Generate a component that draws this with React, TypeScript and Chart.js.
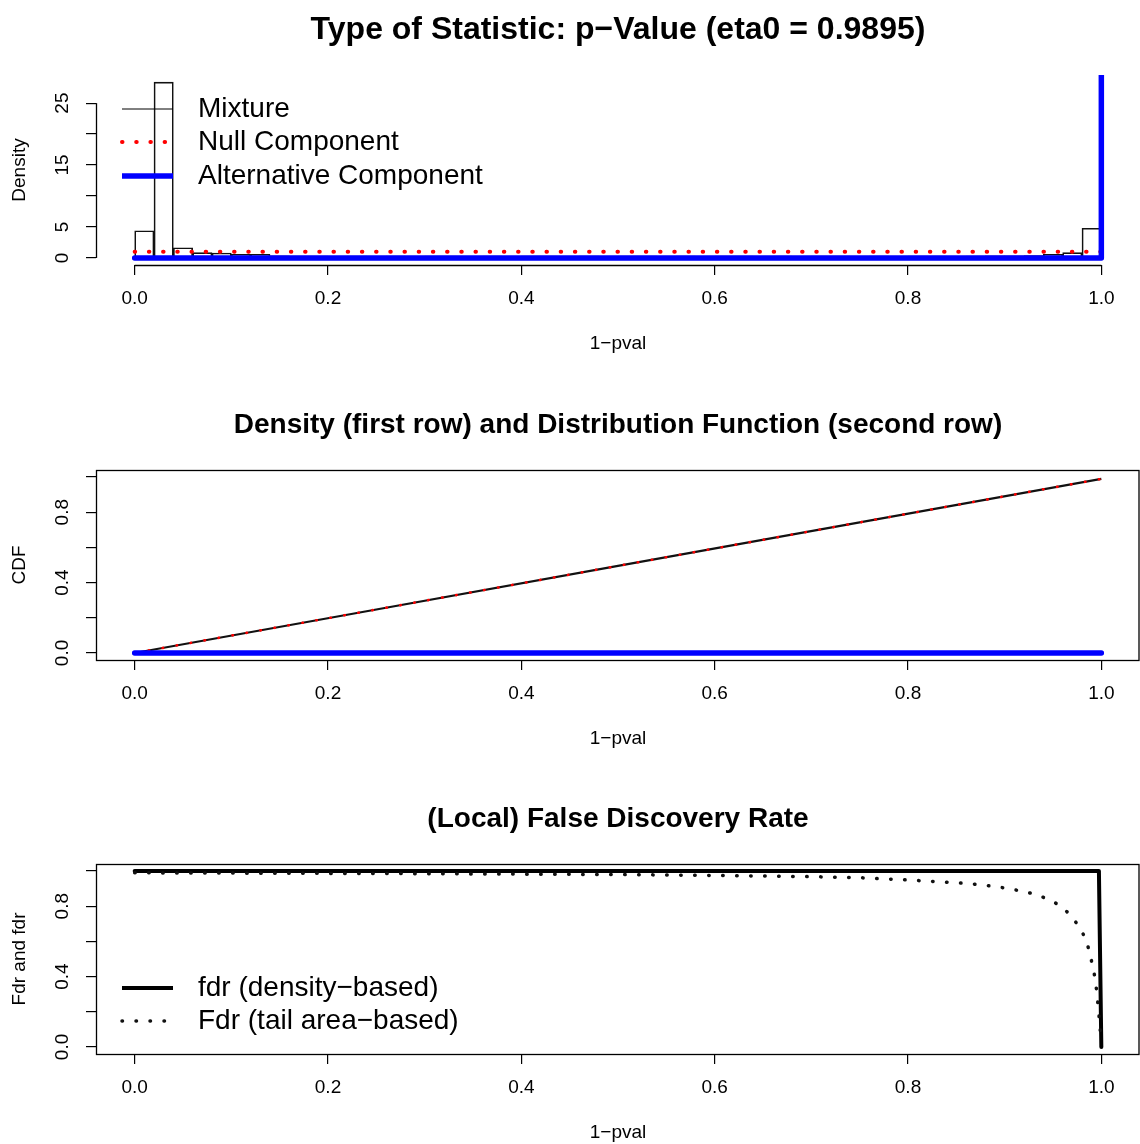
import React, { useEffect, useRef } from 'react';
import { Chart, registerables } from 'chart.js';

Chart.register(...registerables);

const FONT = '"Liberation Sans", Arimo, Arial, Helvetica, sans-serif';

// ---------- text ----------
const mainTitle = 'Type of Statistic: p\u2212Value (eta0 = 0.9895)';
const cdfTitle = 'Density (first row) and Distribution Function (second row)';
const fdrTitle = '(Local) False Discovery Rate';
const xAxisLabel = '1\u2212pval';
const densityAxisLabel = 'Density';
const cdfAxisLabel = 'CDF';
const fdrAxisLabel = 'Fdr and fdr';
const legend1Labels = ['Mixture', 'Null Component', 'Alternative Component'];
const legend3Labels = ['fdr (density\u2212based)', 'Fdr (tail area\u2212based)'];

// ---------- ticks ----------
const xTicks = [0, 0.2, 0.4, 0.6, 0.8, 1.0];
const xTickLabels = ['0.0', '0.2', '0.4', '0.6', '0.8', '1.0'];
const densityTicks = [0, 5, 10, 15, 20, 25];
const densityTickLabels = ['0', '5', '', '15', '', '25'];
const unitTicks = [0, 0.2, 0.4, 0.6, 0.8, 1.0];
const unitTickLabels = ['0.0', '', '0.4', '', '0.8', ''];

// axis limits (R style 4% extension)
const xRange = [-0.04, 1.04];
const densityRange = [-1.136, 29.54];
const unitRange = [-0.04, 1.04];

// ---------- panel 1: histogram + densities ----------
const histBinCenters = [
  0.01, 0.03, 0.05, 0.07, 0.09, 0.11, 0.13, 0.15, 0.17, 0.19,
  0.21, 0.23, 0.25, 0.27, 0.29, 0.31, 0.33, 0.35, 0.37, 0.39,
  0.41, 0.43, 0.45, 0.47, 0.49, 0.51, 0.53, 0.55, 0.57, 0.59,
  0.61, 0.63, 0.65, 0.67, 0.69, 0.71, 0.73, 0.75, 0.77, 0.79,
  0.81, 0.83, 0.85, 0.87, 0.89, 0.91, 0.93, 0.95, 0.97, 0.99,
];
const histDensity = [
  4.4, 28.4, 1.65, 0.85, 0.8, 0.6, 0.6, 0.35, 0.3, 0.3,
  0.25, 0.3, 0.25, 0.3, 0.25, 0.3, 0.3, 0.25, 0.3, 0.25,
  0.3, 0.3, 0.25, 0.3, 0.25, 0.3, 0.3, 0.25, 0.3, 0.25,
  0.3, 0.3, 0.25, 0.3, 0.25, 0.3, 0.3, 0.25, 0.3, 0.25,
  0.3, 0.3, 0.25, 0.3, 0.35, 0.35, 0.4, 0.6, 0.85, 4.8,
];
const nullX = [0, 1];
const nullDensity = [0.9895, 0.9895];
const altX = [0, 1, 1];
const altDensity = [0, 0, 60];

// ---------- panel 2: CDFs ----------
const cdfX = [0, 0.25, 0.5, 0.75, 1];
const mixtureCdf = [0, 0.247, 0.495, 0.742, 0.9895];
const nullCdf = [0, 0.247, 0.495, 0.742, 0.9895];
const altCdf = [0, 0, 0, 0, 0];

// ---------- panel 3: fdr / Fdr ----------
const fdrX = [0, 0.9975, 1];
const fdrValues = [1, 1, 0];
const FdrX = [0, 0.3, 0.5, 0.6, 0.7, 0.75, 0.8, 0.86, 0.89, 0.917, 0.931, 0.945, 0.958, 0.968, 0.977, 0.984, 0.988, 0.991, 0.994, 0.9955, 0.997, 0.9985, 1.0];
const FdrValues = [0.99, 0.985, 0.98, 0.975, 0.968, 0.962, 0.949, 0.93, 0.913, 0.887, 0.869, 0.84, 0.802, 0.75, 0.684, 0.613, 0.535, 0.459, 0.379, 0.297, 0.217, 0.12, 0.02];

const RED = '#FF0000';
const BLUE = '#0000FF';
const BLACK = '#000000';

const pts = (xs: number[], ys: number[]) => xs.map((x, i) => ({ x, y: ys[i] }));

type LegendEntry = { label: string; color: string; width: number; dash: number[]; cap: CanvasLineCap; y: number };

function decorPlugin(p: {
  title: string;
  titleSize: number;
  yTicks: number[];
  yLabels: string[];
  box: boolean;
  axisYMax: number;
  legend: LegendEntry[];
}) {
  return {
    id: 'decor',
    afterDraw(chart: any) {
      const { ctx, chartArea, scales } = chart;
      const xs = scales.x;
      const ys = scales.y;
      ctx.save();
      // title
      ctx.fillStyle = BLACK;
      ctx.font = `bold ${p.titleSize}px ${FONT}`;
      ctx.textAlign = 'center';
      ctx.textBaseline = 'middle';
      ctx.fillText(p.title, (chartArea.left + chartArea.right) / 2, 30);

      // axes / box
      ctx.strokeStyle = BLACK;
      ctx.lineWidth = 1.3;
      ctx.setLineDash([]);
      if (p.box) {
        ctx.strokeRect(chartArea.left + 0.5, chartArea.top + 0.5, chartArea.right - chartArea.left - 1.5, chartArea.bottom - chartArea.top);
      } else {
        const yb = Math.round(chartArea.bottom) + 0.5;
        ctx.beginPath();
        ctx.moveTo(xs.getPixelForValue(0), yb);
        ctx.lineTo(xs.getPixelForValue(1), yb);
        ctx.stroke();
        const xl = Math.round(chartArea.left) + 0.5;
        ctx.beginPath();
        ctx.moveTo(xl, ys.getPixelForValue(0));
        ctx.lineTo(xl, ys.getPixelForValue(p.axisYMax));
        ctx.stroke();
      }

      // rotated y tick labels
      ctx.font = `19px ${FONT}`;
      ctx.textAlign = 'center';
      ctx.textBaseline = 'middle';
      p.yTicks.forEach((v, i) => {
        const t = p.yLabels[i];
        if (!t) return;
        const py = ys.getPixelForValue(v);
        ctx.save();
        ctx.translate(63, py);
        ctx.rotate(-Math.PI / 2);
        ctx.fillText(t, 0, 0);
        ctx.restore();
      });

      // legend
      ctx.font = `28px ${FONT}`;
      ctx.textAlign = 'left';
      ctx.textBaseline = 'middle';
      p.legend.forEach((e) => {
        ctx.save();
        ctx.strokeStyle = e.color;
        ctx.lineWidth = e.width;
        ctx.lineCap = e.cap;
        ctx.setLineDash(e.dash);
        ctx.beginPath();
        ctx.moveTo(122, e.y);
        ctx.lineTo(173, e.y);
        ctx.stroke();
        ctx.restore();
        ctx.fillStyle = BLACK;
        ctx.fillText(e.label, 198, e.y);
      });
      ctx.restore();
    },
  };
}

function scalesFor(yRange: number[], yTicks: number[], yTitle: string) {
  const font = { family: FONT, size: 19 };
  return {
    x: {
      type: 'linear',
      min: xRange[0],
      max: xRange[1],
      offset: false,
      afterBuildTicks: (s: any) => {
        s.ticks = xTicks.map((v) => ({ value: v }));
      },
      afterFit: (s: any) => {
        s.height = 130;
      },
      ticks: {
        autoSkip: false,
        maxRotation: 0,
        minRotation: 0,
        padding: 12,
        color: BLACK,
        font,
        callback: (v: number) => {
          const i = xTicks.indexOf(v);
          return i >= 0 ? xTickLabels[i] : '';
        },
      },
      grid: { offset: false, drawOnChartArea: false, drawTicks: true, tickLength: 10, color: BLACK, lineWidth: 1.2 },
      border: { display: false },
      title: { display: true, text: xAxisLabel, color: BLACK, font, padding: { top: 0, bottom: 40 } },
    },
    y: {
      type: 'linear',
      min: yRange[0],
      max: yRange[1],
      afterBuildTicks: (s: any) => {
        s.ticks = yTicks.map((v) => ({ value: v }));
      },
      afterFit: (s: any) => {
        s.width = 96;
      },
      ticks: { display: false },
      grid: { drawOnChartArea: false, drawTicks: true, tickLength: 10, color: BLACK, lineWidth: 1.2 },
      border: { display: false },
      title: { display: true, text: yTitle, color: BLACK, font, padding: { top: 8.6, bottom: 0 } },
    },
  };
}

const baseOptions = (scales: any) => ({
  animation: false,
  responsive: false,
  maintainAspectRatio: false,
  events: [],
  layout: { padding: { top: 75, left: 0, right: 0, bottom: 0 } },
  plugins: { legend: { display: false }, tooltip: { enabled: false }, title: { display: false } },
  elements: { point: { radius: 0 }, line: { tension: 0 } },
  scales,
});

function buildPanel1(): any {
  return {
    type: 'line',
    data: {
      datasets: [
        {
          type: 'bar',
          label: 'Histogram',
          data: pts(histBinCenters, histDensity),
          backgroundColor: 'rgba(0,0,0,0)',
          borderColor: '#111',
          borderWidth: 1,
          borderSkipped: false,
          barPercentage: 1,
          categoryPercentage: 1,
          grouped: false,
          order: 3,
        },
        {
          type: 'line',
          label: legend1Labels[1],
          data: pts(nullX, nullDensity),
          borderColor: RED,
          borderWidth: 4,
          borderDash: [0.5, 13.7],
          borderCapStyle: 'round',
          pointRadius: 0,
          order: 2,
        },
        {
          type: 'line',
          label: legend1Labels[2],
          data: pts(altX, altDensity),
          borderColor: BLUE,
          borderWidth: 5.5,
          borderCapStyle: 'round',
          borderJoinStyle: 'round',
          pointRadius: 0,
          order: 1,
        },
      ],
    },
    options: baseOptions(scalesFor(densityRange, densityTicks, densityAxisLabel)),
    plugins: [
      decorPlugin({
        title: mainTitle,
        titleSize: 32,
        yTicks: densityTicks,
        yLabels: densityTickLabels,
        box: false,
        axisYMax: 25,
        legend: [
          { label: legend1Labels[0], color: BLACK, width: 1, dash: [], cap: 'butt', y: 109 },
          { label: legend1Labels[1], color: RED, width: 4, dash: [0.5, 13.7], cap: 'round', y: 142 },
          { label: legend1Labels[2], color: BLUE, width: 5.5, dash: [], cap: 'butt', y: 176 },
        ],
      }),
    ],
  };
}

function buildPanel2(): any {
  return {
    type: 'line',
    data: {
      datasets: [
        {
          label: 'Mixture CDF',
          data: pts(cdfX, mixtureCdf),
          borderColor: '#111',
          borderWidth: 2.2,
          pointRadius: 0,
          order: 3,
        },
        {
          label: 'Null CDF',
          data: pts(cdfX, nullCdf),
          borderColor: RED,
          borderWidth: 2.6,
          borderDash: [0.5, 13.7],
          borderCapStyle: 'round',
          pointRadius: 0,
          order: 2,
        },
        {
          label: 'Alternative CDF',
          data: pts(cdfX, altCdf),
          borderColor: BLUE,
          borderWidth: 5.5,
          borderCapStyle: 'round',
          pointRadius: 0,
          order: 1,
        },
      ],
    },
    options: baseOptions(scalesFor(unitRange, unitTicks, cdfAxisLabel)),
    plugins: [
      decorPlugin({
        title: cdfTitle,
        titleSize: 28,
        yTicks: unitTicks,
        yLabels: unitTickLabels,
        box: true,
        axisYMax: 1,
        legend: [],
      }),
    ],
  };
}

function buildPanel3(): any {
  return {
    type: 'line',
    data: {
      datasets: [
        {
          label: legend3Labels[0],
          data: pts(fdrX, fdrValues),
          borderColor: BLACK,
          borderWidth: 4,
          borderCapStyle: 'round',
          borderJoinStyle: 'round',
          pointRadius: 0,
          order: 2,
        },
        {
          label: legend3Labels[1],
          data: pts(FdrX, FdrValues),
          borderColor: '#111',
          borderWidth: 3.5,
          borderDash: [0.5, 13.5],
          borderCapStyle: 'round',
          pointRadius: 0,
          order: 1,
        },
      ],
    },
    options: baseOptions(scalesFor(unitRange, unitTicks, fdrAxisLabel)),
    plugins: [
      decorPlugin({
        title: fdrTitle,
        titleSize: 28,
        yTicks: unitTicks,
        yLabels: unitTickLabels,
        box: true,
        axisYMax: 1,
        legend: [
          { label: legend3Labels[0], color: BLACK, width: 4, dash: [], cap: 'butt', y: 199 },
          { label: legend3Labels[1], color: '#111', width: 3.5, dash: [0.5, 13.5], cap: 'round', y: 232 },
        ],
      }),
    ],
  };
}

function Panel({ top, build }: { top: number; build: () => any }) {
  const ref = useRef<HTMLCanvasElement>(null);
  useEffect(() => {
    const chart = new Chart(ref.current as HTMLCanvasElement, build());
    return () => chart.destroy();
  }, []);
  return (
    <canvas
      ref={ref}
      width={1140}
      height={395}
      style={{ position: 'absolute', left: 0, top, width: 1140, height: 395, display: 'block' }}
    />
  );
}

export default function App() {
  return (
    <div
      style={{
        position: 'absolute',
        left: 0,
        top: 0,
        width: 1140,
        height: 1144,
        overflow: 'hidden',
        background: '#ffffff',
      }}
    >
      <Panel top={0} build={buildPanel1} />
      <Panel top={395} build={buildPanel2} />
      <Panel top={789} build={buildPanel3} />
    </div>
  );
}
